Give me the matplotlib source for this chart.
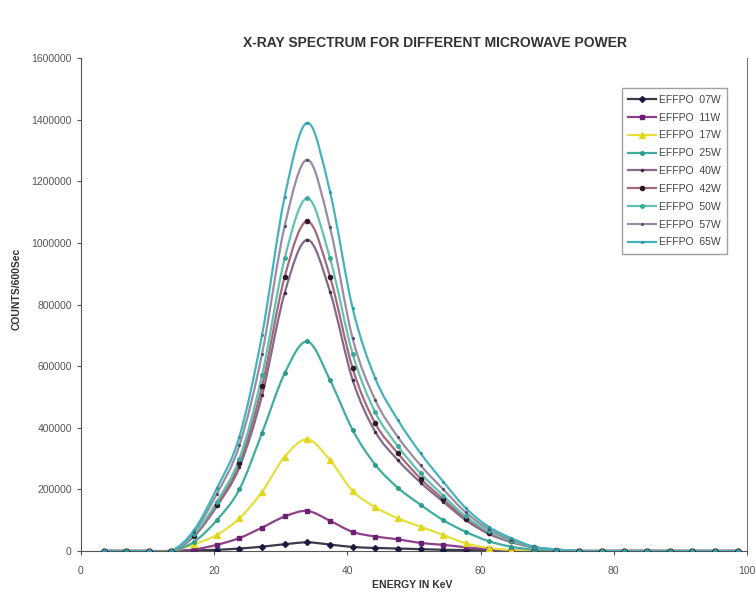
import numpy as np
import matplotlib.pyplot as plt
from matplotlib.path import Path
from matplotlib.patches import PathPatch
from matplotlib.lines import Line2D

plt.rcParams['font.family'] = ['Liberation Sans', 'DejaVu Sans']

# energy channels (KeV)
energy = [3.4, 6.8, 10.2, 13.6, 17.0, 20.4, 23.8, 27.2, 30.6, 34.0,
          37.4, 40.8, 44.2, 47.6, 51.0, 54.4, 57.8, 61.2, 64.6, 68.0,
          71.4, 74.8, 78.2, 81.6, 85.0, 88.4, 91.8, 95.2, 98.6]

tail = [0] * 8

w07 = [0, 0, 0, 0, 2000, 4000, 8000, 14000, 22000, 28000,
       21000, 13000, 10000, 8000, 6000, 4000, 3000, 2000, 1000, 0, 0] + tail
w11 = [0, 0, 0, 0, 5000, 20000, 42000, 76000, 112000, 130000,
       98000, 62000, 47000, 38000, 26000, 20000, 12000, 6000, 2000, 0, 0] + tail
w17 = [0, 0, 0, 0, 22000, 52000, 106000, 192000, 306000, 362000,
       295000, 195000, 142000, 106000, 79000, 52000, 25000, 10000, 3000, 0, 0] + tail
w25 = [0, 0, 0, 0, 30000, 100000, 200000, 383000, 577000, 680000,
       555000, 393000, 280000, 205000, 150000, 100000, 62000, 32000, 14000, 4000, 0] + tail
w40 = [0, 0, 0, 0, 48000, 145000, 272000, 505000, 838000, 1010000,
       842000, 555000, 387000, 295000, 222000, 160000, 100000, 56000, 29000, 11000, 4000] + tail
w42 = [0, 0, 0, 0, 50000, 150000, 285000, 535000, 890000, 1070000,
       890000, 593000, 414000, 317000, 235000, 168000, 105000, 60000, 31000, 12000, 4000] + tail
w50 = [0, 0, 0, 0, 55000, 160000, 300000, 570000, 950000, 1145000,
       950000, 640000, 450000, 340000, 252000, 180000, 112000, 64000, 33000, 12000, 4000] + tail
w57 = [0, 0, 0, 0, 63000, 185000, 343000, 640000, 1055000, 1270000,
       1050000, 690000, 490000, 370000, 278000, 200000, 125000, 71000, 37000, 13000, 5000] + tail
w65 = [0, 0, 0, 0, 68000, 203000, 371000, 701000, 1150000, 1390000,
       1166000, 788000, 560000, 425000, 317000, 225000, 139000, 79000, 42000, 14000, 5000] + tail

labels = ["EFFPO  07W", "EFFPO  11W", "EFFPO  17W", "EFFPO  25W", "EFFPO  40W",
          "EFFPO  42W", "EFFPO  50W", "EFFPO  57W", "EFFPO  65W"]
series = [w07, w11, w17, w25, w40, w42, w50, w57, w65]
line_colors = ["#3a3a4a", "#8e3f8c", "#e6df3c", "#3fae9f", "#86688a",
               "#a46a78", "#62c2b2", "#9a8ca2", "#45b3bd"]
mark_colors = ["#1a1a40", "#6a2070", "#e0d820", "#2a9a8a", "#402848",
               "#301828", "#3aa898", "#505068", "#2a98a8"]
markers = ["D", "s", "^", "o", ".", "o", "o", ".", "."]
msizes = [3, 3.5, 4, 2.5, 3, 3, 2.5, 2.5, 2.5]


def smooth_path(xs, ys):
    # Excel style smoothed line: Catmull-Rom segments as cubic Bezier
    xs = np.asarray(xs, float)
    ys = np.asarray(ys, float)
    verts = [(xs[0], ys[0])]
    codes = [Path.MOVETO]
    n = len(xs)
    for i in range(n - 1):
        p0 = i - 1 if i > 0 else i
        p3 = i + 2 if i + 2 < n else i + 1
        c1 = (xs[i] + (xs[i + 1] - xs[p0]) / 6, ys[i] + (ys[i + 1] - ys[p0]) / 6)
        c2 = (xs[i + 1] - (xs[p3] - xs[i]) / 6, ys[i + 1] - (ys[p3] - ys[i]) / 6)
        verts += [c1, c2, (xs[i + 1], ys[i + 1])]
        codes += [Path.CURVE4] * 3
    return Path(verts, codes)


fig = plt.figure(figsize=(7.56, 5.98), dpi=100)
ax = fig.add_axes([0.107, 0.0786, 0.881, 0.8244])

handles = []
for vals, lab, lc, mc, mk, ms in zip(series, labels, line_colors, mark_colors, markers, msizes):
    ax.add_patch(PathPatch(smooth_path(energy, vals), facecolor="none",
                           edgecolor=lc, lw=1.6, zorder=2))
    ax.plot(energy, vals, linestyle="none", marker=mk, ms=ms, color=mc,
            markeredgecolor=mc, zorder=3)
    handles.append(Line2D([], [], color=lc, lw=1.6, marker=mk, ms=ms,
                          markerfacecolor=mc, markeredgecolor=mc))

ax.set_xlim(0, 100)
ax.set_ylim(0, 1600000)
ax.set_xticks([0, 20, 40, 60, 80, 100])
ax.set_yticks(range(0, 1600001, 200000))
ax.set_yticklabels([str(v) for v in range(0, 1600001, 200000)])
ax.tick_params(axis="both", labelsize=7.5, colors="#555555", length=3, direction="out")
ax.tick_params(axis="x", pad=8)
ax.spines["top"].set_visible(False)
ax.spines["left"].set_color("#555555")
ax.spines["bottom"].set_color("#555555")
ax.spines["right"].set_color("#777777")

fig.text(0.576, 0.928, "X-RAY SPECTRUM FOR DIFFERENT MICROWAVE POWER",
         ha="center", va="center", fontsize=10, fontweight="bold", color="#333333")
fig.text(0.545, 0.022, "ENERGY IN KeV", ha="center", va="center",
         fontsize=7.5, fontweight="bold", color="#333333")
fig.text(0.022, 0.517, "COUNTS/600Sec", ha="center", va="center", rotation=90,
         fontsize=7.5, fontweight="bold", color="#333333")

leg = ax.legend(handles, labels, loc="upper left", bbox_to_anchor=(0.812, 0.939),
                borderaxespad=0, fontsize=7.5, frameon=True, fancybox=False,
                edgecolor="#888888", handlelength=2.6, handletextpad=0.3,
                labelspacing=0.75, borderpad=0.65, labelcolor="#444444")
leg.get_frame().set_linewidth(1.0)

fig.savefig("out.png", dpi=100)
